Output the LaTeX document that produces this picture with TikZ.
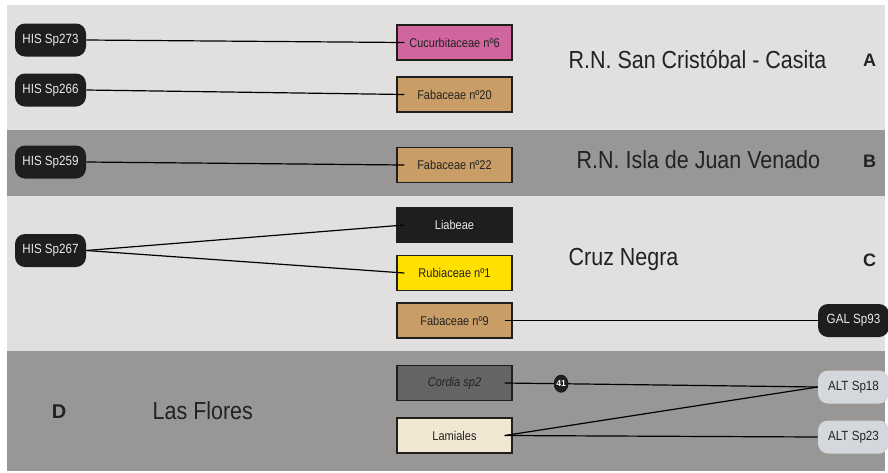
\documentclass[tikz,border=0pt]{standalone}
\usepackage{fontspec}
\setmainfont{Liberation Sans}[FakeStretch=0.87]
\newfontfamily\letterfam{Liberation Sans Bold}
\usetikzlibrary{shapes.geometric}

\definecolor{bandlight}{HTML}{E1E0DE}
\definecolor{banddark}{HTML}{989795}
\definecolor{nodedark}{HTML}{1E1E1C}
\definecolor{nodepale}{HTML}{D4D8DD}
\definecolor{cucurb}{HTML}{D1669E}
\definecolor{fabac}{HTML}{C99D66}
\definecolor{rubiac}{HTML}{FFE000}
\definecolor{cordiac}{HTML}{646462}
\definecolor{lamiac}{HTML}{F1E7D3}
\definecolor{inkdark}{HTML}{222222}

\newcommand{\sitefont}{\fontsize{18.5}{21}\selectfont}
\newcommand{\letterfont}{\letterfam\fontsize{13.5}{16}\selectfont}

\tikzset{
  insect/.style={rounded corners=7.5pt, fill=nodedark, text=white!92!black,
    minimum width=53.25pt, minimum height=24.75pt, inner sep=0pt,
    font=\fontsize{10}{12}\selectfont},
  insectpale/.style={insect, fill=nodepale, text=inkdark},
  plant/.style={draw=nodedark, line width=1.1pt, minimum width=86.25pt,
    minimum height=26.25pt, inner sep=0pt, text=inkdark,
    font=\fontsize{9.5}{11}\selectfont},
  link/.style={line width=0.9pt, black},
  sitename/.style={anchor=west, text=inkdark, font=\sitefont},
  siteletter/.style={text=inkdark, font=\letterfont},
  count/.style={ellipse, fill=nodedark, text=white, inner sep=0pt,
    minimum width=11pt, minimum height=13.5pt,
    font=\letterfam\fontsize{6.5}{7}\selectfont}
}

\begin{document}
\begin{tikzpicture}[x=0.75pt, y=-0.75pt]
  \useasboundingbox (0,0) rectangle (888,472);
  \fill[white] (0,0) rectangle (888,472);

  % locality bands
  \fill[bandlight] (7,5)   rectangle (885,130);
  \fill[banddark]  (7,130) rectangle (885,196);
  \fill[bandlight] (7,196) rectangle (885,351);
  \fill[banddark]  (7,351) rectangle (885,471);

  % locality names and letters
  \node[sitename] (sA) at (564,60)  {R.N. San Cristóbal - Casita};
  \node[sitename] (sB) at (572,160) {R.N. Isla de Juan Venado};
  \node[sitename] (sC) at (564,259) {Cruz Negra};
  \node[sitename] (sD) at (148,411) {Las Flores};
  \node[siteletter] (lA) at (869.5,60)  {A};
  \node[siteletter] (lB) at (869.5,161) {B};
  \node[siteletter] (lC) at (869.5,260) {C};
  \node[siteletter, font=\letterfam\fontsize{15}{17}\selectfont] (lD) at (59,411.5) {D};

  % insect species, left
  \node[insect] (h273) at (50.5,40)  {HIS Sp273};
  \node[insect] (h266) at (50.5,90)  {HIS Sp266};
  \node[insect] (h259) at (50.5,162) {HIS Sp259};
  \node[insect] (h267) at (50.5,250.5) {HIS Sp267};

  % insect species, right
  \node[insect] (g93)  at (853.5,320.5) {GAL Sp93};
  \node[insectpale] (a18) at (853.5,387) {ALT Sp18};
  \node[insectpale] (a23) at (853.5,437) {ALT Sp23};

  % host plants
  \node[plant, fill=cucurb]  (cuc)  at (454.5,42.5)  {Cucurbitaceae nº6};
  \node[plant, fill=fabac]   (f20)  at (454.5,94.5)  {Fabaceae nº20};
  \node[plant, fill=fabac]   (f22)  at (454.5,165)   {Fabaceae nº22};
  \node[plant, fill=nodedark, text=white!92!black] (lia) at (454.5,225) {Liabeae};
  \node[plant, fill=rubiac]  (rub)  at (454.5,273)   {Rubiaceae nº1};
  \node[plant, fill=fabac]   (f9)   at (454.5,320.5) {Fabaceae nº9};
  \node[plant, fill=cordiac] (cor)  at (454.5,383)   {\itshape Cordia sp2};
  \node[plant, fill=lamiac]  (lam)  at (454.5,435.5) {Lamiales};

  % interactions
  \draw[link] (h273.east) -- ([xshift=6pt]cuc.west);
  \draw[link] (h266.east) -- ([xshift=6pt]f20.west);
  \draw[link] (h259.east) -- ([xshift=6pt]f22.west);
  \draw[link] (h267.east) -- ([xshift=6pt]lia.west);
  \draw[link] (h267.east) -- ([xshift=6pt]rub.west);
  \draw[link] ([xshift=-6pt]f9.east) -- (g93.west);
  \draw[link] ([xshift=-6pt]cor.east) -- (a18.west)
    node[count, pos=0.18] (n41) {41};
  \draw[link] ([xshift=-6pt]lam.east) -- (a18.west);
  \draw[link] ([xshift=-6pt]lam.east) -- (a23.west);
\end{tikzpicture}
\end{document}
